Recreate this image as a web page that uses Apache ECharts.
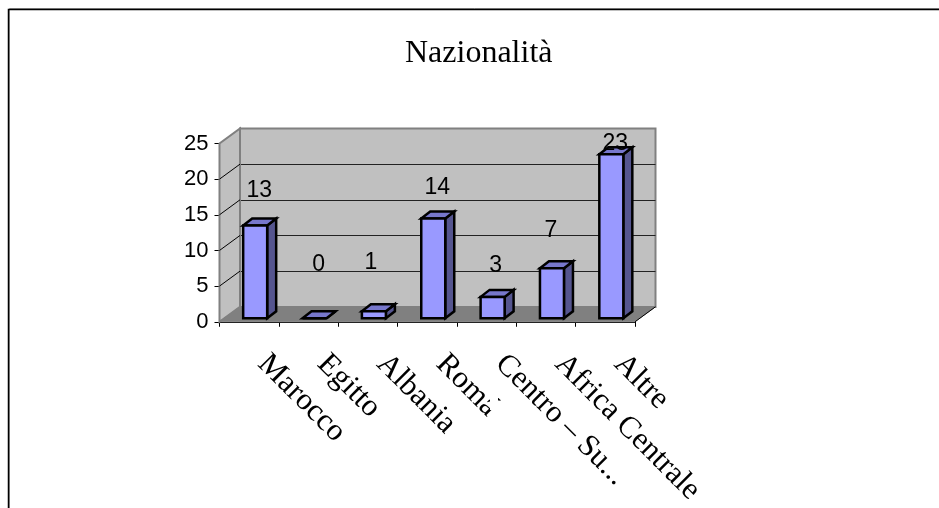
<!DOCTYPE html>
<html>
<head>
<meta charset="utf-8">
<title>Nazionalità</title>
<script src="https://cdn.jsdelivr.net/npm/echarts@6/dist/echarts.min.js"></script>
<style>
    html, body {margin: 0; padding: 0; background: #fff; overflow: hidden;}
    #chart {width: 939px; height: 508px;}
</style>
</head>
<body>
<div id="chart"></div>
<script>
var titleText = 'Nazionalità';
var categories = ['Marocco', 'Egitto', 'Albania', 'Romá', 'Centro – Su...', 'Africa Centrale', 'Altre'];
var values = [13, 0, 1, 14, 3, 7, 23];
var yTicks = [5, 10, 15, 20];
// the old 3d chart puts its labels at odd places, so these are by hand (px above the bar top, px sideways)
var labelLift = [35, 54, 48, 31, 31, 38, 11];
var labelNudge = [10, 10, 3, 10, 9, 5, 10];

var depthX = 20.5, depthY = -15;   // back wall offset
var barDepthX = 9, barDepthY = -7;
var barWidth = 24;

window.onload = function () {
    var myChart = echarts.init(document.getElementById('chart'));

    function renderWalls(params, api) {
        var o = api.coord([0, 0]);
        var size = api.size([1, 0]);
        var x0 = o[0] - size[0] / 2;
        var x1 = x0 + size[0] * categories.length;
        var y0 = o[1];
        var top = api.coord([0, 25])[1];
        var children = [
            {type: 'polygon', shape: {points: [[x0, y0], [x0 + depthX, y0 + depthY], [x0 + depthX, top + depthY], [x0, top]]},
                style: {fill: '#c0c0c0', stroke: '#808080', lineWidth: 2}},
            {type: 'polygon', shape: {points: [[x0, y0], [x0 + depthX, y0 + depthY], [x1 + depthX, y0 + depthY], [x1, y0]]},
                style: {fill: '#808080', stroke: '#808080', lineWidth: 1}},
            {type: 'line', shape: {x1: x1, y1: y0, x2: x1 + depthX, y2: y0 + depthY}, style: {stroke: '#000', lineWidth: 1}}
        ];
        yTicks.forEach(function (t) {
            var y = api.coord([0, t])[1];
            children.push({type: 'line', shape: {x1: x0, y1: y, x2: x0 + depthX, y2: y + depthY}, style: {stroke: '#000', lineWidth: 1}});
        });
        return {type: 'group', children: children};
    }

    function renderBar(params, api) {
        var i = api.value(0);
        var v = api.value(1);
        var p = api.coord([i, v]);
        var base = api.coord([i, 0]);
        var x = p[0] + 6 - barWidth / 2;
        var yTop = p[1] - 3.5;
        var yBot = base[1] - 3.5;
        var r = x + barWidth;
        var line = {stroke: '#000', lineWidth: 2.5, lineJoin: 'miter'};
        return {
            type: 'group',
            children: [
                {type: 'polygon', shape: {points: [[r, yTop], [r + barDepthX, yTop + barDepthY], [r + barDepthX, yBot + barDepthY], [r, yBot]]},
                    style: echarts.util.extend({fill: '#55558f'}, line)},
                {type: 'polygon', shape: {points: [[x, yTop], [x + barDepthX, yTop + barDepthY], [r + barDepthX, yTop + barDepthY], [r, yTop]]},
                    style: echarts.util.extend({fill: '#7777cc'}, line)},
                {type: 'rect', shape: {x: x, y: yTop, width: barWidth, height: yBot - yTop},
                    style: echarts.util.extend({fill: '#9999ff'}, line)},
                {type: 'text', x: p[0] + labelNudge[i], y: yTop - labelLift[i],
                    style: {text: String(v), fill: '#000', font: '23px "Liberation Sans"', align: 'center', verticalAlign: 'middle'}}
            ]
        };
    }

    var option = {
        animation: false,
        backgroundColor: '#fff',
        title: {
            text: titleText,
            left: 400,
            top: 33,
            textStyle: {fontFamily: 'Liberation Serif', fontSize: 32, fontWeight: 'normal', color: '#000'}
        },
        graphic: [
            // frame of the slide, only top and left are in the picture
            {type: 'polyline', z: 50, silent: true, shape: {points: [[9.5, 508], [9.5, 8.5], [939, 8.5]]},
                style: {fill: null, stroke: '#999', lineWidth: 1}},
            {type: 'polyline', z: 51, silent: true, shape: {points: [[8.5, 508], [8.5, 9.5], [939, 9.5]]},
                style: {fill: null, stroke: '#000', lineWidth: 1.5}},
            // cuts the long label like the original
            {type: 'rect', z: 50, silent: true, shape: {x: 490, y: 340, width: 8, height: 70}, style: {fill: '#fff'}}
        ],
        grid: [
            {left: 219.5, top: 143.5, width: 415.5, height: 178.5},
            {left: 219.5 + depthX, top: 143.5 + depthY, width: 415.5, height: 178.5,
                show: true, backgroundColor: '#c0c0c0', borderColor: '#808080', borderWidth: 2}
        ],
        xAxis: [
            {
                type: 'category', gridIndex: 0, data: categories,
                axisLine: {lineStyle: {color: '#000', width: 1}},
                axisTick: {show: true, length: 5, lineStyle: {color: '#000'}},
                axisLabel: {
                    interval: 0, rotate: -45, margin: 24, align: 'left', verticalAlign: 'middle',
                    padding: [0, 0, 0, 19],
                    fontFamily: 'Liberation Serif', fontSize: 31, color: '#000', hideOverlap: false
                }
            },
            {type: 'category', gridIndex: 1, data: categories, show: false}
        ],
        yAxis: [
            {
                type: 'value', gridIndex: 0, min: 0, max: 25, interval: 5,
                axisLine: {show: true, lineStyle: {color: '#000', width: 1}},
                axisTick: {show: true, length: 5, lineStyle: {color: '#000'}},
                axisLabel: {fontFamily: 'Liberation Sans', fontSize: 22, color: '#000', margin: 11, padding: [6, 0, 0, 0]},
                splitLine: {show: false}
            },
            {
                type: 'value', gridIndex: 1, min: 0, max: 25, interval: 5,
                axisLine: {show: false}, axisTick: {show: false}, axisLabel: {show: false},
                splitLine: {show: true, showMinLine: false, showMaxLine: false, lineStyle: {color: '#222', width: 1}}
            }
        ],
        series: [
            {
                type: 'custom', name: 'walls', xAxisIndex: 0, yAxisIndex: 0, z: 1, silent: true, clip: false,
                data: [[0, 0]],
                renderItem: renderWalls
            },
            {
                type: 'custom', name: 'Nazionalità', xAxisIndex: 0, yAxisIndex: 0, z: 3, clip: false,
                data: values.map(function (v, i) { return [i, v]; }),
                encode: {x: 0, y: 1},
                renderItem: renderBar
            }
        ]
    };

    myChart.setOption(option);
};
</script>
</body>
</html>
